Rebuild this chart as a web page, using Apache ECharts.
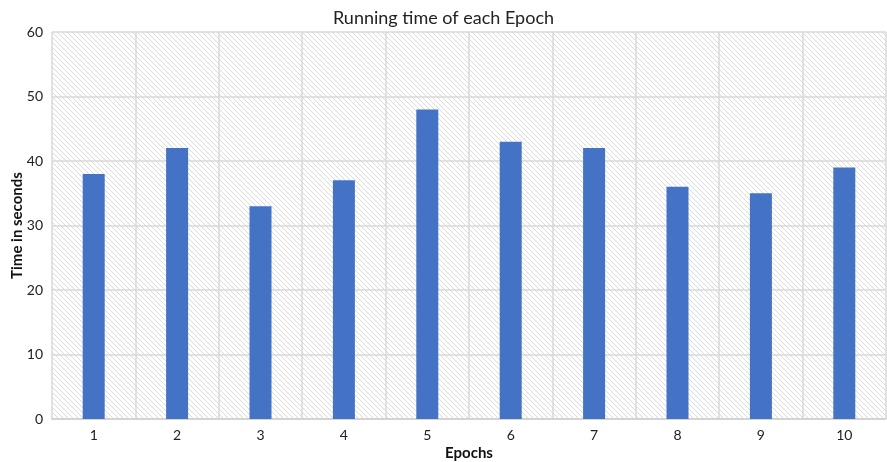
<!DOCTYPE html>
<html>
<head>
<meta charset="utf-8">
<script src="https://cdn.jsdelivr.net/npm/echarts@6/dist/echarts.min.js"></script>
<style>
  html, body { margin: 0; padding: 0; background: #fff; }
  #chart { width: 887px; height: 462px; }
</style>
</head>
<body>
<div id="chart"></div>
<script>
// Epoch labels and their running times (seconds)
const epochs = ['1', '2', '3', '4', '5', '6', '7', '8', '9', '10'];
const runningTimes = [38, 42, 33, 37, 48, 43, 42, 36, 35, 39];
const yTicks = [0, 10, 20, 30, 40, 50, 60];

// Diagonal hatch tile for the plot background
function makeHatch() {
  const size = 5;
  const c = document.createElement('canvas');
  c.width = size; c.height = size;
  const ctx = c.getContext('2d');
  ctx.fillStyle = '#ffffff';
  ctx.fillRect(0, 0, size, size);
  ctx.strokeStyle = '#dadada';
  ctx.lineWidth = 1;
  ctx.beginPath();
  ctx.moveTo(-1, -1); ctx.lineTo(size + 1, size + 1);
  ctx.moveTo(-1, size - 1); ctx.lineTo(1, size + 1);
  ctx.moveTo(size - 1, -1); ctx.lineTo(size + 1, 1);
  ctx.stroke();
  return c;
}

const chart = echarts.init(document.getElementById('chart'));
const font = 'Lato, "Open Sans", sans-serif';
chart.setOption({
  animation: false,
  textStyle: { fontFamily: font },
  title: {
    text: 'Running time of each Epoch',
    left: 'center',
    top: 4,
    textStyle: { fontFamily: font, fontSize: 18, fontWeight: 'normal', color: '#222' }
  },
  grid: {
    left: 52, right: 1, top: 32, bottom: 43,
    outerBoundsMode: 'none',
    containLabel: false,
    show: true,
    borderWidth: 0,
    backgroundColor: { image: makeHatch(), repeat: 'repeat' }
  },
  xAxis: {
    type: 'category',
    data: epochs,
    name: 'Epochs',
    nameLocation: 'middle',
    nameGap: 27,
    nameMoveOverlap: false,
    nameTextStyle: { fontFamily: font, fontSize: 15, fontWeight: 'bold', color: '#111' },
    axisLine: { show: true, lineStyle: { color: '#d0d0d0', width: 1.5 } },
    axisTick: { show: false },
    axisLabel: { fontFamily: font, fontSize: 14, color: '#222', margin: 9 },
    splitLine: { show: true, lineStyle: { color: '#d9d9d9', width: 1.5 } }
  },
  yAxis: {
    type: 'value',
    min: yTicks[0],
    max: yTicks[yTicks.length - 1],
    interval: 10,
    name: 'Time in seconds',
    nameLocation: 'middle',
    nameGap: 27,
    nameMoveOverlap: false,
    nameTextStyle: { fontFamily: font, fontSize: 15, fontWeight: 'bold', color: '#111' },
    axisLine: { show: false },
    axisTick: { show: false },
    axisLabel: { fontFamily: font, fontSize: 14, color: '#222', margin: 9 },
    splitLine: { show: true, lineStyle: { color: '#d9d9d9', width: 1.5 } }
  },
  series: [{
    type: 'bar',
    data: runningTimes,
    barWidth: 22,
    itemStyle: { color: '#4472C4' }
  }]
});
</script>
</body>
</html>
